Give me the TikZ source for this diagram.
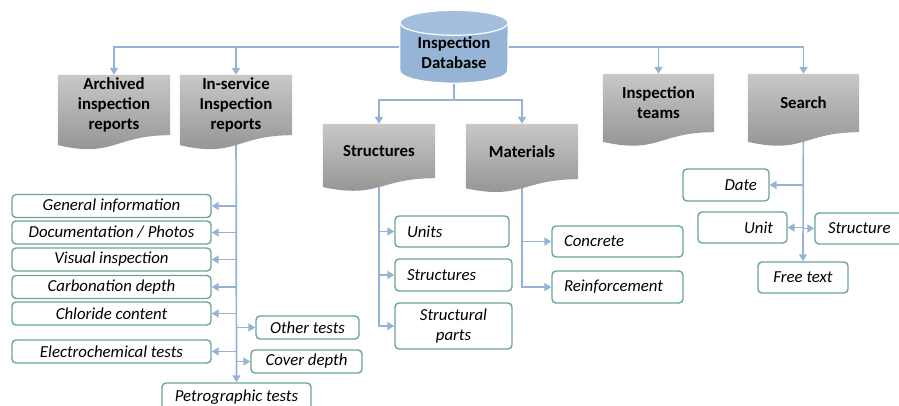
\documentclass[tikz,border=0pt]{standalone}
\usepackage{fontspec}
\setmainfont{Carlito}
\usetikzlibrary{arrows.meta,calc,backgrounds}
\definecolor{connc}{RGB}{149,179,215}
\definecolor{leafc}{RGB}{106,166,148}
\definecolor{docTop}{RGB}{202,199,199}
\definecolor{docBot}{RGB}{146,143,143}
\definecolor{dbBody}{RGB}{150,181,214}
\definecolor{dbTop}{RGB}{163,191,221}
\tikzset{
 conn/.style={draw=connc, line width=1.7pt, -{Triangle[length=7pt,width=8pt]}},
 plain/.style={draw=connc, line width=1.7pt},
 leaf/.style={draw=leafc, line width=1.4pt, rounded corners=4pt, fill=white,
   font=\fontsize{16.8}{20}\selectfont\itshape, inner sep=0pt, align=center},
 docnode/.style={inner sep=0pt, font=\fontsize{16.8}{20}\selectfont\bfseries, align=center},
}
\newcommand\docpath[1]{%
  \path[top color=docTop, bottom color=docBot]
   let \p1=(#1.north west), \p2=(#1.south east), \n1={\y1-\y2} in
   (\x1,\y1) -- (\x2,\y1) -- (\x2,\y2)
   .. controls ({(\x1+\x2)/2},\y2) and ({(\x1+\x2)/2},{\y2-0.381*\n1}) .. (\x1,{\y2-0.1646*\n1}) -- cycle;}
\begin{document}
\begin{tikzpicture}[x=1pt,y=1pt]
\useasboundingbox (0,0) rectangle (899,-406);
% database
\node[docnode, minimum width=108pt, minimum height=60pt] (db) at (454,-53) {Inspection\\Database};
\coordinate (hub) at ($(db.north)+(0,-24)$);
\coordinate (split) at (454,-100);
% documents
\node[docnode, minimum width=112pt, minimum height=60pt] (arch) at (114,-105) {Archived\\inspection\\reports};
\node[docnode, minimum width=112pt, minimum height=60pt] (insv) at (236,-105) {In-service\\Inspection\\reports};
\node[docnode, minimum width=112pt, minimum height=54pt] (str) at (379,-151) {Structures};
\node[docnode, minimum width=112pt, minimum height=55pt] (mat) at (522,-151.5) {Materials};
\node[docnode, minimum width=111pt, minimum height=58pt] (teams) at (658.5,-103) {Inspection\\teams};
\node[docnode, minimum width=111pt, minimum height=58pt] (search) at (803.5,-103) {Search};
% leaves: in-service
\node[leaf, minimum width=199pt, minimum height=23pt] (gen) at (111.5,-206) {General information};
\node[leaf, minimum width=199pt, minimum height=23pt] (docp) at (111.5,-232.5) {Documentation / Photos};
\node[leaf, minimum width=199pt, minimum height=23pt] (vis) at (111.5,-259.5) {Visual inspection};
\node[leaf, minimum width=199pt, minimum height=23pt] (carb) at (111.5,-287) {Carbonation depth};
\node[leaf, minimum width=199pt, minimum height=23pt] (chl) at (111.5,-313.5) {Chloride content};
\node[leaf, minimum width=199pt, minimum height=23pt] (elec) at (111.5,-351.5) {Electrochemical tests};
\node[leaf, minimum width=103pt, minimum height=23pt] (other) at (307.5,-327.5) {Other tests};
\node[leaf, minimum width=111pt, minimum height=23pt] (cover) at (306.5,-361.5) {Cover depth};
\node[leaf, minimum width=149pt, minimum height=28pt] (petro) at (236.5,-397) {Petrographic tests};
% leaves: structures
\node[leaf, align=left, text width=90pt, inner xsep=12pt, minimum height=31pt] (units) at (452,-231.5) {Units};
\node[leaf, align=left, text width=93pt, inner xsep=12pt, minimum height=32pt] (strb) at (453.5,-275) {Structures};
\node[leaf, minimum width=117pt, minimum height=46pt] (sparts) at (453.5,-326) {Structural\\parts};
% leaves: materials
\node[leaf, align=left, text width=107pt, inner xsep=12pt, minimum height=31pt] (conc) at (617.5,-241.5) {Concrete};
\node[leaf, align=left, text width=107pt, inner xsep=12pt, minimum height=32pt] (reinf) at (617.5,-287) {Reinforcement};
% leaves: search
\node[leaf, align=right, text width=62pt, inner xsep=12pt, minimum height=32pt] (date) at (726,-185) {Date};
\node[leaf, align=right, text width=61pt, inner xsep=14pt, minimum height=31pt] (unit) at (742.5,-227.5) {Unit};
\node[leaf, align=left, text width=69pt, inner xsep=13pt, minimum height=31pt] (struc) at (862.5,-228.5) {Structure};
\node[leaf, minimum width=90pt, minimum height=31pt] (free) at (803,-277.5) {Free text};
\begin{scope}[on background layer]
 % connectors
 \foreach \nm in {arch,insv,teams,search} \draw[conn] (hub) -| (\nm.north);
 \draw[plain] (db.center) -- (split);
 \draw[conn] (split) -| (str.north);
 \draw[conn] (split) -| (mat.north);
 \draw[conn] (insv.center) -- (petro.north);
 \foreach \nm in {gen,docp,vis,carb,chl,elec} \draw[conn] (\nm.east -| insv.center) -- (\nm.east);
 \foreach \nm in {other,cover} \draw[conn] (\nm.west -| insv.center) -- (\nm.west);
 \foreach \nm in {units,strb,sparts} \draw[conn] (str.center) |- (\nm.west);
 \foreach \nm in {conc,reinf} \draw[conn] (mat.center) |- (\nm.west);
 \draw[conn] (search.center) -- (free.north);
 \foreach \nm in {date,unit} \draw[conn] (\nm.east -| search.center) -- (\nm.east);
 \draw[conn] (struc.west -| search.center) -- (struc.west);
 % document shapes
 \docpath{arch}\docpath{insv}\docpath{str}\docpath{mat}\docpath{teams}\docpath{search}
 % cylinder
 \fill[dbBody, draw=white, line width=1.2pt] (db.north west) -- ($(db.south west)+(0,12.5)$)
   arc[start angle=180, end angle=360, x radius=54pt, y radius=12.5pt]
   -- (db.north east) arc[start angle=0, end angle=180, x radius=54pt, y radius=12.5pt] -- cycle;
 \fill[dbTop, draw=white, line width=1.2pt] (db.north) ellipse[x radius=54pt, y radius=12.5pt];
\end{scope}
\end{tikzpicture}
\end{document}
